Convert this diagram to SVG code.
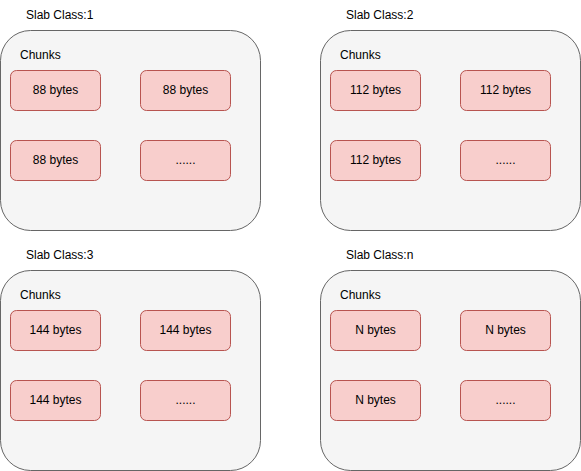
<svg xmlns="http://www.w3.org/2000/svg" width="581" height="471" viewBox="0 0 581 471">
<style>
.slab{fill:#f5f5f5;stroke:#666666;stroke-width:1}
.chunk{fill:#f8cecc;stroke:#b85450;stroke-width:1}
text{font-family:"Liberation Sans",Arial,sans-serif;font-size:12px;fill:#000}
.c{text-anchor:middle;dominant-baseline:central}
.l{dominant-baseline:central}
</style>
<rect width="581" height="471" fill="#ffffff"/>
<g id="slab1" transform="translate(0,0)">
<text class="l" x="26" y="14.5">Slab Class:1</text>
<rect class="slab" x="0.5" y="30.5" width="260" height="200" rx="30" ry="30"/>
<text class="l" x="20" y="54.5">Chunks</text>
<g id="slab1-c1"><rect class="chunk" x="10.5" y="70.5" width="90" height="40" rx="6" ry="6"/><text class="c" x="55.5" y="90">88 bytes</text></g>
<g id="slab1-c2"><rect class="chunk" x="140.5" y="70.5" width="90" height="40" rx="6" ry="6"/><text class="c" x="185.5" y="90">88 bytes</text></g>
<g id="slab1-c3"><rect class="chunk" x="10.5" y="140.5" width="90" height="40" rx="6" ry="6"/><text class="c" x="55.5" y="160">88 bytes</text></g>
<g id="slab1-c4"><rect class="chunk" x="140.5" y="140.5" width="90" height="40" rx="6" ry="6"/><text class="c" x="185.5" y="160">......</text></g>
</g>
<g id="slab2" transform="translate(320,0)">
<text class="l" x="26" y="14.5">Slab Class:2</text>
<rect class="slab" x="0.5" y="30.5" width="260" height="200" rx="30" ry="30"/>
<text class="l" x="20" y="54.5">Chunks</text>
<g id="slab2-c1"><rect class="chunk" x="10.5" y="70.5" width="90" height="40" rx="6" ry="6"/><text class="c" x="55.5" y="90">112 bytes</text></g>
<g id="slab2-c2"><rect class="chunk" x="140.5" y="70.5" width="90" height="40" rx="6" ry="6"/><text class="c" x="185.5" y="90">112 bytes</text></g>
<g id="slab2-c3"><rect class="chunk" x="10.5" y="140.5" width="90" height="40" rx="6" ry="6"/><text class="c" x="55.5" y="160">112 bytes</text></g>
<g id="slab2-c4"><rect class="chunk" x="140.5" y="140.5" width="90" height="40" rx="6" ry="6"/><text class="c" x="185.5" y="160">......</text></g>
</g>
<g id="slab3" transform="translate(0,240)">
<text class="l" x="26" y="14.5">Slab Class:3</text>
<rect class="slab" x="0.5" y="30.5" width="260" height="200" rx="30" ry="30"/>
<text class="l" x="20" y="54.5">Chunks</text>
<g id="slab3-c1"><rect class="chunk" x="10.5" y="70.5" width="90" height="40" rx="6" ry="6"/><text class="c" x="55.5" y="90">144 bytes</text></g>
<g id="slab3-c2"><rect class="chunk" x="140.5" y="70.5" width="90" height="40" rx="6" ry="6"/><text class="c" x="185.5" y="90">144 bytes</text></g>
<g id="slab3-c3"><rect class="chunk" x="10.5" y="140.5" width="90" height="40" rx="6" ry="6"/><text class="c" x="55.5" y="160">144 bytes</text></g>
<g id="slab3-c4"><rect class="chunk" x="140.5" y="140.5" width="90" height="40" rx="6" ry="6"/><text class="c" x="185.5" y="160">......</text></g>
</g>
<g id="slabn" transform="translate(320,240)">
<text class="l" x="26" y="14.5">Slab Class:n</text>
<rect class="slab" x="0.5" y="30.5" width="260" height="200" rx="30" ry="30"/>
<text class="l" x="20" y="54.5">Chunks</text>
<g id="slabn-c1"><rect class="chunk" x="10.5" y="70.5" width="90" height="40" rx="6" ry="6"/><text class="c" x="55.5" y="90">N bytes</text></g>
<g id="slabn-c2"><rect class="chunk" x="140.5" y="70.5" width="90" height="40" rx="6" ry="6"/><text class="c" x="185.5" y="90">N bytes</text></g>
<g id="slabn-c3"><rect class="chunk" x="10.5" y="140.5" width="90" height="40" rx="6" ry="6"/><text class="c" x="55.5" y="160">N bytes</text></g>
<g id="slabn-c4"><rect class="chunk" x="140.5" y="140.5" width="90" height="40" rx="6" ry="6"/><text class="c" x="185.5" y="160">......</text></g>
</g>
</svg>
